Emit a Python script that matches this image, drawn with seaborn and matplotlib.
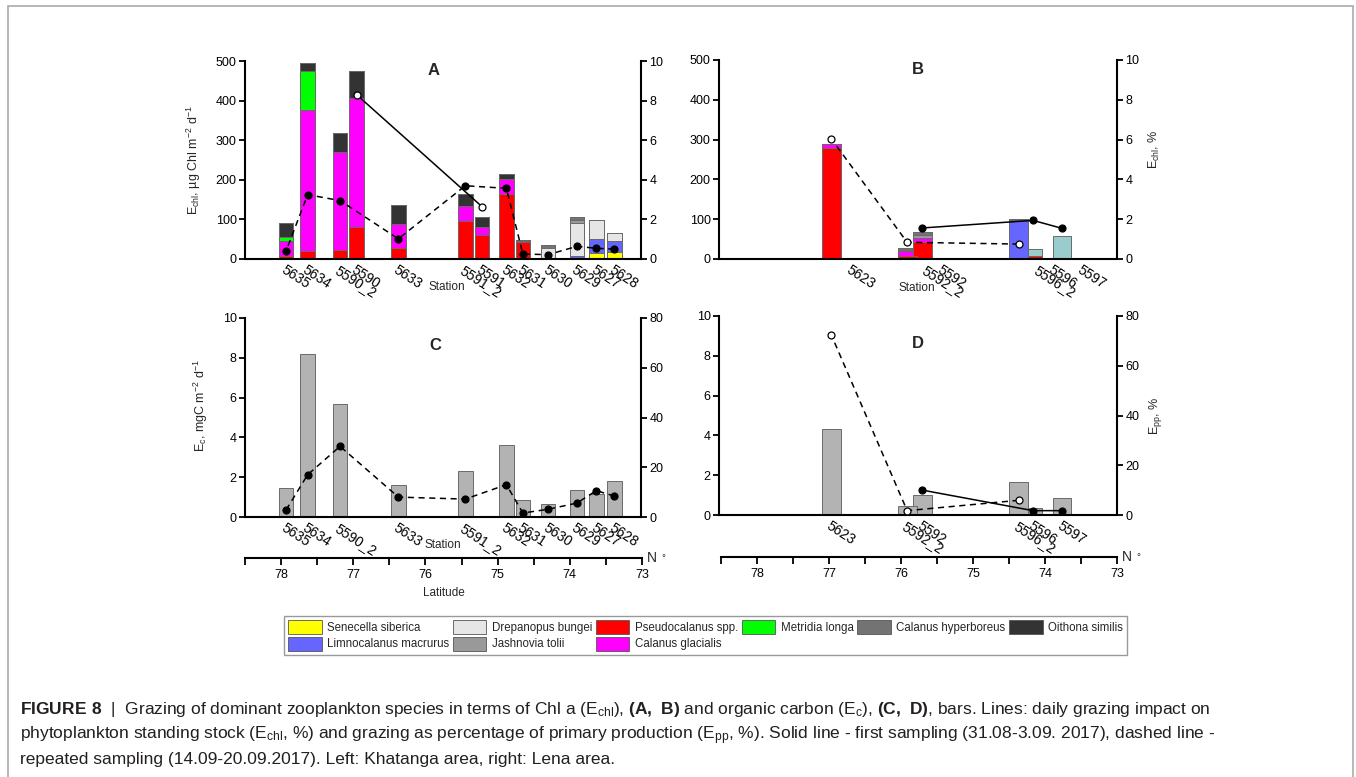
import numpy as np
import matplotlib
matplotlib.use('Agg')
import matplotlib.pyplot as plt
import matplotlib.patches as mpatches
import matplotlib.transforms as mtransforms
from matplotlib import font_manager
import seaborn as sns

# ---- Khatanga area (panels A, C) ----
khat_stations = ['5635', '5634', '5590_2', '5590', '5633', '5591_2', '5591',
                 '5632', '5631', '5630', '5629', '5627', '5628']
khat_lat = [77.93, 77.63, 77.18, 76.95, 76.37, 75.44, 75.21,
            74.87, 74.64, 74.29, 73.89, 73.62, 73.37]

# E_chl per species, ug Chl m-2 d-1 (panel A)
khat_senecella = [0, 0, 0, 0, 0, 0, 0, 0, 0, 0, 0, 14, 18]
khat_limnocalanus = [0, 0, 0, 0, 0, 0, 0, 0, 0, 2, 8, 36, 27]
khat_pseudocalanus = [7, 20, 22, 80, 27, 97, 60, 164, 42, 0, 0, 0, 0]
khat_glacialis = [39, 355, 247, 327, 61, 36, 22, 37, 3, 0, 0, 0, 0]
khat_metridia = [9, 101, 0, 0, 0, 0, 0, 0, 0, 0, 0, 0, 0]
khat_drepanopus = [0, 0, 0, 0, 0, 0, 0, 0, 0, 25, 84, 49, 20]
khat_jashnovia = [0, 0, 0, 0, 0, 0, 0, 0, 0, 0, 7, 0, 0]
khat_hyperboreus = [0, 0, 0, 0, 0, 0, 0, 0, 3, 8, 6, 0, 0]
khat_oithona = [35, 20, 49, 69, 48, 32, 24, 14, 0, 0, 0, 0, 0]
khat_other = [0, 0, 0, 0, 0, 0, 0, 0, 0, 0, 0, 0, 0]

# E_chl, % (panel A lines)
a_first_stations = ['5590', '5591']
a_first_echl = [8.3, 2.65]
a_rep_stations = ['5635', '5634', '5590_2', '5633', '5591_2', '5632',
                  '5631', '5630', '5629', '5627', '5628']
a_rep_echl = [0.4, 3.25, 2.95, 1.02, 3.7, 3.57, 0.25, 0.22, 0.64, 0.54, 0.50]

# E_c, mgC m-2 d-1 and E_pp, % (panel C)
c_stations = ['5635', '5634', '5590_2', '5633', '5591_2', '5632',
              '5631', '5630', '5629', '5627', '5628']
c_ec = [1.46, 8.21, 5.70, 1.61, 2.31, 3.63, 0.85, 0.64, 1.36, 1.17, 1.81]
c_rep_epp = [2.8, 17.0, 28.4, 8.0, 7.2, 13.0, 1.6, 3.1, 5.6, 10.6, 8.4]

# ---- Lena area (panels B, D) ----
lena_stations = ['5623', '5592_2', '5592', '5596_2', '5596', '5597']
lena_lat = [76.95, 75.90, 75.69, 74.36, 74.16, 73.76]

lena_senecella = [0, 0, 0, 0, 0, 0]
lena_limnocalanus = [0, 0, 0, 97, 0, 0]
lena_pseudocalanus = [278, 7, 43, 0, 8, 0]
lena_glacialis = [10, 12, 11, 0, 0, 0]
lena_metridia = [0, 0, 0, 0, 0, 0]
lena_drepanopus = [2, 0, 0, 0, 0, 0]
lena_jashnovia = [0, 4, 6, 0, 0, 0]
lena_hyperboreus = [0, 5, 7, 0, 0, 0]
lena_oithona = [0, 0, 0, 4, 0, 0]
lena_other = [0, 0, 0, 0, 16, 59]

b_first_stations = ['5592', '5596', '5597']
b_first_echl = [1.56, 1.94, 1.54]
b_rep_stations = ['5623', '5592_2', '5596_2']
b_rep_echl = [6.05, 0.84, 0.75]

d_ec = [4.33, 0.43, 1.0, 1.66, 0.33, 0.87]
d_first_epp = [10.0, 1.75, 1.75]
d_rep_epp = [72.5, 1.75, 5.9]

species = ['Senecella siberica', 'Limnocalanus macrurus', 'Pseudocalanus spp.',
           'Calanus glacialis', 'Metridia longa', 'Drepanopus bungei',
           'Jashnovia tolii', 'Calanus hyperboreus', 'Oithona similis', 'other']
colors = {'Senecella siberica': '#ffff00', 'Limnocalanus macrurus': '#6666ff',
          'Pseudocalanus spp.': '#ff0000', 'Calanus glacialis': '#ff00ff',
          'Metridia longa': '#00ff00', 'Drepanopus bungei': '#e6e6e6',
          'Jashnovia tolii': '#999999', 'Calanus hyperboreus': '#737373',
          'Oithona similis': '#333333', 'other': '#99cccc'}
legend_order = ['Senecella siberica', 'Limnocalanus macrurus', 'Drepanopus bungei',
                'Jashnovia tolii', 'Pseudocalanus spp.', 'Calanus glacialis',
                'Metridia longa', 'Calanus hyperboreus', 'Oithona similis']

sns.set_style('ticks')
names = {f.name for f in font_manager.fontManager.ttflist}
narrow = 'Liberation Sans Narrow' if 'Liberation Sans Narrow' in names else None
plt.rcParams['font.family'] = ['Liberation Sans', 'DejaVu Sans']
plt.rcParams['mathtext.fontset'] = 'custom'
plt.rcParams['mathtext.rm'] = 'Liberation Sans'
plt.rcParams['mathtext.bf'] = 'Liberation Sans:bold'
plt.rcParams['mathtext.default'] = 'regular'
plt.rcParams['axes.edgecolor'] = 'black'
plt.rcParams['xtick.color'] = 'black'
plt.rcParams['ytick.color'] = 'black'

W, H = 1356, 777
fig = plt.figure(figsize=(W / 100, H / 100), dpi=100)


def rect(l, t, r, b):
    return [l / W, 1 - b / H, (r - l) / W, (b - t) / H]


XLIM = (78.5, 73)


def bars(ax, lat, vals, width_deg, color):
    lat = np.asarray(lat)
    w = width_deg / np.diff(np.sort(lat)).min()
    sns.barplot(x=lat, y=vals, native_scale=True, orient='x', width=w, color=color,
                saturation=1, edgecolor='#6a6a6a', linewidth=0.7, errorbar=None, ax=ax)


def stacked(ax, lat, layers, width_deg):
    # draw cumulative totals from the top layer down so each colour shows its share
    cum = np.cumsum(np.array([layers[s] for s in species], dtype=float), axis=0)
    for s, top in reversed(list(zip(species, cum))):
        bars(ax, lat, top, width_deg, colors[s])


def line(ax, lat_map, st, vals, dashed, filled):
    sns.lineplot(x=[lat_map[s] for s in st], y=vals, ax=ax, color='black',
                 linestyle=(0, (4, 3)) if dashed else '-', linewidth=1.1,
                 marker='o', markersize=5, markeredgecolor='black', mew=0.9,
                 markerfacecolor='black' if filled else 'white')


def frame(ax, ax2, ylim, yticks, y2lim, y2ticks, stations, lat, shift=0):
    ax.set_xlim(*XLIM)
    ax.set_ylim(*ylim)
    ax.set_yticks(yticks)
    ax2.set_ylim(*y2lim)
    ax2.set_yticks(y2ticks)
    ax.set_xticks(lat)
    ax.set_xticklabels(stations, rotation=-33, ha='left', va='top',
                       rotation_mode='anchor', fontsize=10)
    ax.tick_params(axis='x', length=0, pad=3)
    ax.tick_params(axis='y', length=4, width=1.3, labelsize=9, pad=2)
    ax2.tick_params(axis='y', length=4, width=1.3, labelsize=9, pad=2)
    ax.set_xlabel('')
    ax.set_ylabel('')
    ax2.set_xlabel('')
    ax2.set_ylabel('')
    for a in (ax, ax2):
        a.spines['top'].set_visible(False)
        for sp in a.spines.values():
            sp.set_linewidth(1.5)
    ax.spines['right'].set_visible(False)
    ax2.spines['left'].set_visible(False)
    ax2.spines['bottom'].set_visible(False)
    if shift:
        off = mtransforms.ScaledTranslation(shift / 100, 0, fig.dpi_scale_trans)
        for lab in ax.get_xticklabels():
            lab.set_transform(lab.get_transform() + off)


def lat_axis(r, label):
    lax = fig.add_axes(r)
    lax.set_xlim(*XLIM)
    lax.set_yticks([])
    for s in ('left', 'right', 'top'):
        lax.spines[s].set_visible(False)
    lax.spines['bottom'].set_linewidth(1.5)
    lax.patch.set_visible(False)
    lax.set_xticks([78, 77, 76, 75, 74, 73])
    lax.set_xticks(np.arange(73.5, 78.6, 1.0), minor=True)
    lax.tick_params(axis='x', which='both', length=5, width=1.3, labelsize=9, pad=3)
    lax.text(1.012, 0.0, 'N', transform=lax.transAxes, fontsize=10, va='center')
    lax.text(1.05, 0.6, '°', transform=lax.transAxes, fontsize=7, va='center')
    if label:
        lax.set_xlabel(label, fontsize=8.5, labelpad=4)


khat_map = dict(zip(khat_stations, khat_lat))
lena_map = dict(zip(lena_stations, lena_lat))
khat_layers = dict(zip(species, [khat_senecella, khat_limnocalanus, khat_pseudocalanus,
                                 khat_glacialis, khat_metridia, khat_drepanopus,
                                 khat_jashnovia, khat_hyperboreus, khat_oithona, khat_other]))
lena_layers = dict(zip(species, [lena_senecella, lena_limnocalanus, lena_pseudocalanus,
                                 lena_glacialis, lena_metridia, lena_drepanopus,
                                 lena_jashnovia, lena_hyperboreus, lena_oithona, lena_other]))

# panel A
axA = fig.add_axes(rect(245, 61, 641, 259))
stacked(axA, khat_lat, khat_layers, 0.2)
axA2 = axA.twinx()
line(axA2, khat_map, a_rep_stations, a_rep_echl, True, True)
line(axA2, khat_map, a_first_stations, a_first_echl, False, False)
frame(axA, axA2, (0, 500), range(0, 501, 100), (0, 10), range(0, 11, 2), khat_stations, khat_lat)
axA.set_ylabel('E$_{chl}$, µg Chl m$^{-2}$ d$^{-1}$', fontsize=9)
axA.yaxis.set_label_coords(-0.105, 0.5)
axA.text(0.477, 0.95, 'A', transform=axA.transAxes, fontsize=12, fontweight='bold', ha='center', va='center')
axA.text(0.51, -0.14, 'Station', transform=axA.transAxes, fontsize=8.5, ha='center', va='center')

# panel B
axB = fig.add_axes(rect(719, 60, 1117, 259))
stacked(axB, lena_lat, lena_layers, 0.26)
axB2 = axB.twinx()
line(axB2, lena_map, b_rep_stations, b_rep_echl, True, False)
line(axB2, lena_map, b_first_stations, b_first_echl, False, True)
frame(axB, axB2, (0, 500), range(0, 501, 100), (0, 10), range(0, 11, 2), lena_stations, lena_lat, shift=20)
axB2.set_ylabel('E$_{chl}$, %', fontsize=9)
axB2.yaxis.set_label_coords(1.075, 0.55)
axB.text(0.5, 0.95, 'B', transform=axB.transAxes, fontsize=12, fontweight='bold', ha='center', va='center')
axB.text(0.497, -0.145, 'Station', transform=axB.transAxes, fontsize=8.5, ha='center', va='center')

# panel C
axC = fig.add_axes(rect(245, 318, 641, 517))
bars(axC, [khat_map[s] for s in c_stations], c_ec, 0.2, '#b3b3b3')
axC2 = axC.twinx()
line(axC2, khat_map, c_stations, c_rep_epp, True, True)
frame(axC, axC2, (0, 10), range(0, 11, 2), (0, 80), range(0, 81, 20),
      c_stations, [khat_map[s] for s in c_stations])
axC.set_ylabel('E$_c$, mgC m$^{-2}$ d$^{-1}$', fontsize=9)
axC.yaxis.set_label_coords(-0.088, 0.56)
axC.text(0.48, 0.86, 'C', transform=axC.transAxes, fontsize=12, fontweight='bold', ha='center', va='center')
axC.text(0.5, -0.14, 'Station', transform=axC.transAxes, fontsize=8.5, ha='center', va='center')

# panel D
axD = fig.add_axes(rect(719, 316, 1117, 515))
bars(axD, lena_lat, d_ec, 0.26, '#b3b3b3')
axD2 = axD.twinx()
line(axD2, lena_map, b_rep_stations, d_rep_epp, True, False)
line(axD2, lena_map, b_first_stations, d_first_epp, False, True)
frame(axD, axD2, (0, 10), range(0, 11, 2), (0, 80), range(0, 81, 20), lena_stations, lena_lat)
axD2.set_ylabel('E$_{pp}$, %', fontsize=9)
axD2.yaxis.set_label_coords(1.075, 0.5)
axD.text(0.5, 0.86, 'D', transform=axD.transAxes, fontsize=12, fontweight='bold', ha='center', va='center')

lat_axis(rect(245, 557.5, 642, 558), 'Latitude')
lat_axis(rect(721, 556.5, 1117, 557), None)

# legend
handles = [mpatches.Patch(facecolor=colors[s], edgecolor='#555555', linewidth=0.6, label=s)
           for s in legend_order]
leg_font = {'family': [narrow, 'DejaVu Sans'], 'size': 10} if narrow else {'family': ['Liberation Sans'], 'size': 8.3}
leg = fig.legend(handles=handles, ncol=6, loc='center',
                 bbox_to_anchor=rect(285, 614, 1126, 657), prop=leg_font,
                 frameon=True, fancybox=False, edgecolor='#999999', framealpha=1,
                 handlelength=2.9, handleheight=1.5, handletextpad=0.45,
                 columnspacing=0.35, labelspacing=0.2, borderpad=0.4,
                 borderaxespad=0)
leg.get_frame().set_linewidth(1.0)

# outer border
fig.patches.append(mpatches.Rectangle((8 / W, -0.02), (1353 - 8) / W, 1.0 - 6 / H + 0.02,
                                      transform=fig.transFigure, fill=False,
                                      edgecolor='#aaaaaa', linewidth=1.2))

# caption
cap = [r"$\mathbf{FIGURE\ 8}$  |  Grazing of dominant zooplankton species in terms of Chl a (E$_{chl}$), "
       r"$\mathbf{(A,\ B)}$ and organic carbon (E$_{c}$), $\mathbf{(C,\ D)}$, bars. Lines: daily grazing impact on",
       r"phytoplankton standing stock (E$_{chl}$, %) and grazing as percentage of primary production "
       r"(E$_{pp}$, %). Solid line - first sampling (31.08-3.09. 2017), dashed line -",
       "repeated sampling (14.09-20.09.2017). Left: Khatanga area, right: Lena area."]
for i, t in enumerate(cap):
    fig.text(20 / W, 1 - (714 + 25 * i) / H, t, fontsize=12.5, color='#231f20', va='baseline')

fig.savefig('out.png', dpi=100)
